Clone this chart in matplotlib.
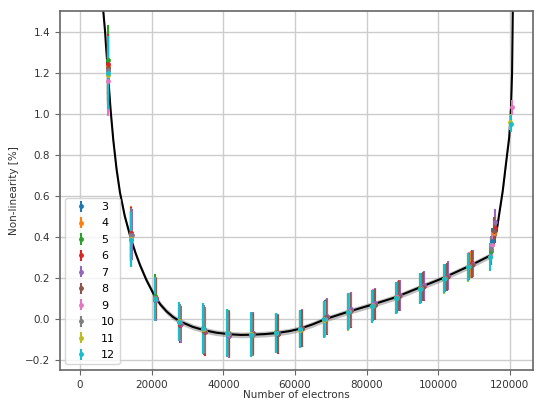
import numpy as np
import matplotlib
matplotlib.use("Agg")
import matplotlib.pyplot as plt

nan = np.nan

# gain setting of each measurement series
series = [3, 4, 5, 6, 7, 8, 9, 10, 11, 12]

# relative shift of the electron count per series
gain_shift = [0.005, 0.009, 0.002, 0.012, 0.013, 0.010, 0.004, 0.003, 0.0, 0.0005]

# nominal number of electrons of each illumination step
electrons = [7700, 14200, 20900, 27700, 34400, 41100, 47800, 54600, 61300,
             68000, 74700, 81400, 88100, 94800, 101500, 108200, 114400, 120100]

# measured non-linearity [%], one row per series
nonlin = [
    [1.22, 0.40, 0.09, -0.02, -0.055, -0.075, -0.078, -0.068, -0.045, 0.005, 0.038, 0.068, 0.108, 0.152, 0.200, 0.262, 0.38, nan],
    [1.23, 0.42, 0.10, -0.025, -0.06, -0.07, -0.08, -0.072, -0.048, 0.008, 0.04, 0.07, 0.11, 0.158, 0.205, 0.265, 0.42, nan],
    [1.26, 0.39, 0.11, -0.01, -0.045, -0.073, -0.074, -0.066, -0.052, -0.002, 0.032, 0.062, 0.10, 0.148, 0.195, 0.252, 0.33, nan],
    [1.24, 0.42, 0.095, -0.03, -0.065, -0.078, -0.072, -0.075, -0.046, 0.01, 0.042, 0.072, 0.112, 0.16, 0.208, 0.27, 0.44, nan],
    [1.21, 0.41, 0.09, -0.028, -0.058, -0.082, -0.07, -0.07, -0.043, 0.012, 0.045, 0.075, 0.114, 0.162, 0.21, 0.268, 0.47, nan],
    [1.22, 0.40, 0.10, -0.022, -0.062, -0.076, -0.076, -0.073, -0.047, 0.006, 0.039, 0.069, 0.109, 0.156, 0.204, 0.264, 0.43, nan],
    [1.16, 0.40, 0.10, -0.018, -0.052, -0.074, -0.079, -0.069, -0.05, 0.0, 0.036, 0.066, 0.105, 0.151, 0.199, 0.257, 0.36, 1.03],
    [1.21, 0.41, 0.10, -0.016, -0.05, -0.072, -0.077, -0.071, -0.051, 0.001, 0.034, 0.064, 0.103, 0.149, 0.197, 0.255, 0.34, nan],
    [1.19, 0.39, 0.098, -0.012, -0.048, -0.07, -0.076, -0.07, -0.053, -0.004, 0.031, 0.06, 0.10, 0.146, 0.194, 0.25, 0.30, 0.96],
    [1.20, 0.385, 0.095, -0.014, -0.047, -0.071, -0.077, -0.07, -0.052, -0.003, 0.033, 0.061, 0.101, 0.147, 0.196, 0.252, 0.30, 0.95],
]

# 1-sigma uncertainty of each measurement [%]
nonlin_err = [
    [0.16, 0.12, 0.10, 0.085, 0.11, 0.11, 0.10, 0.09, 0.085, 0.084, 0.083, 0.075, 0.072, 0.07, 0.067, 0.064, 0.062, nan],
    [0.17, 0.13, 0.105, 0.09, 0.115, 0.112, 0.104, 0.094, 0.09, 0.086, 0.086, 0.077, 0.074, 0.072, 0.069, 0.066, 0.064, nan],
    [0.17, 0.13, 0.108, 0.092, 0.12, 0.116, 0.106, 0.096, 0.091, 0.089, 0.088, 0.079, 0.076, 0.074, 0.071, 0.068, 0.066, nan],
    [0.15, 0.125, 0.105, 0.09, 0.118, 0.114, 0.105, 0.095, 0.09, 0.088, 0.087, 0.078, 0.075, 0.073, 0.07, 0.067, 0.07, nan],
    [0.16, 0.125, 0.10, 0.088, 0.115, 0.11, 0.103, 0.093, 0.088, 0.087, 0.086, 0.077, 0.074, 0.072, 0.069, 0.066, 0.065, nan],
    [0.16, 0.12, 0.10, 0.087, 0.113, 0.11, 0.102, 0.092, 0.088, 0.086, 0.085, 0.076, 0.073, 0.071, 0.068, 0.065, 0.064, nan],
    [0.17, 0.13, 0.104, 0.09, 0.117, 0.113, 0.104, 0.094, 0.089, 0.087, 0.087, 0.077, 0.074, 0.072, 0.07, 0.066, 0.064, 0.035],
    [0.165, 0.128, 0.103, 0.089, 0.116, 0.112, 0.104, 0.094, 0.089, 0.087, 0.086, 0.077, 0.074, 0.072, 0.069, 0.066, 0.064, nan],
    [0.17, 0.132, 0.106, 0.092, 0.12, 0.116, 0.107, 0.097, 0.092, 0.09, 0.089, 0.08, 0.077, 0.075, 0.072, 0.069, 0.067, 0.04],
    [0.18, 0.135, 0.108, 0.094, 0.125, 0.118, 0.108, 0.098, 0.093, 0.091, 0.09, 0.081, 0.078, 0.076, 0.073, 0.07, 0.068, 0.042],
]

# fitted model curve and its uncertainty band
fit_x = [6500, 7000, 7260, 7600, 7900, 8200, 8560, 9300, 10200, 11160, 12500,
         14200, 15500, 16740, 18500, 20900, 22500, 24200, 26000, 27900, 31500,
         34900, 38000, 41900, 45000, 48000, 51500, 54900, 58600, 61400, 65000,
         68800, 74500, 81800, 88000, 94900, 101300, 108800, 114400, 116300,
         117000, 118000, 118900, 119800, 120300, 120600, 120800, 121000]
fit_y = [1.50, 1.40, 1.33, 1.25, 1.18, 1.10, 1.015, 0.87, 0.73, 0.615, 0.50,
         0.39, 0.32, 0.262, 0.19, 0.108, 0.068, 0.035, 0.008, -0.013, -0.040,
         -0.057, -0.068, -0.076, -0.079, -0.078, -0.075, -0.07, -0.06, -0.049, -0.027,
         0.0, 0.032, 0.07, 0.104, 0.153, 0.198, 0.258, 0.307, 0.43,
         0.51, 0.624, 0.756, 0.885, 1.03, 1.2, 1.5, 1.8]
fit_sigma = 0.014

fig = plt.figure(figsize=(5.35, 4.0), dpi=100)
ax = fig.add_axes([0.112, 0.075, 0.884, 0.8975])

fx = np.array(fit_x)
fy = np.array(fit_y)
ax.fill_between(fx, fy - fit_sigma, fy + fit_sigma, color="0.45", alpha=0.45,
                lw=0, zorder=2)
ax.plot(fx, fy, color="black", lw=1.5, zorder=2)

for i, s in enumerate(series):
    x = np.array(electrons) * (1 + gain_shift[i])
    ax.errorbar(x, nonlin[i], yerr=nonlin_err[i], fmt="o", ms=2.5,
                elinewidth=1.5, color="C%d" % i, label=str(s), zorder=3)

ax.set_xlim(-5600, 126400)
ax.set_ylim(-0.25, 1.5)
ax.set_xticks(np.arange(0, 120001, 20000))
ax.set_yticks(np.arange(-0.2, 1.41, 0.2))
ax.grid(True, color="0.8", lw=1.0)
ax.set_axisbelow(True)

for sp in ax.spines.values():
    sp.set_color("0.4")
    sp.set_linewidth(1.2)
ax.tick_params(labelsize=7.5, colors="0.4", labelcolor="0.2")

ax.set_xlabel("Number of electrons", fontsize=7.5, color="0.2", labelpad=0.5)
ax.set_ylabel("Non-linearity [%]", fontsize=7.5, color="0.2")
ax.legend(loc="lower left", fontsize=8, labelspacing=0.58)

fig.savefig("out.png", dpi=100)
